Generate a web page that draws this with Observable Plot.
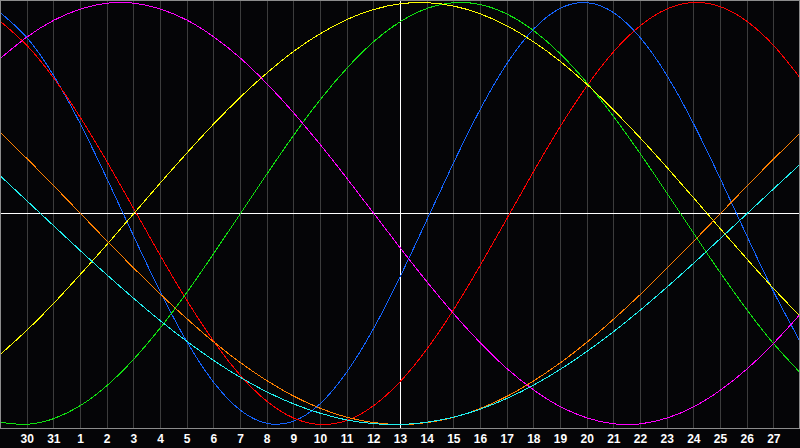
<!DOCTYPE html>
<html>
<head>
<meta charset="utf-8">
<script src="https://cdn.jsdelivr.net/npm/d3@7"></script>
<script src="https://cdn.jsdelivr.net/npm/@observablehq/plot@0.6"></script>
<style>
  html, body { margin: 0; padding: 0; background: #050507; }
  #chart svg { display: block; }
</style>
</head>
<body>
<div id="chart"></div>
<script>
// x positions: day offsets from the left edge of the window (0 .. 30)
const days = [0,1,2,3,4,5,6,7,8,9,10,11,12,13,14,15,16,17,18,19,20,21,22,23,24,25,26,27,28,29,30];

// grid lines and their calendar-day labels
const gridDays   = [1,2,3,4,5,6,7,8,9,10,11,12,13,14,15,16,17,18,19,20,21,22,23,24,25,26,27,28,29];
const tickLabels = ["30","31","1","2","3","4","5","6","7","8","9","10","11","12","13","14","15","16","17","18","19","20","21","22","23","24","25","26","27"];
const todayDay = 15;

// series values (one value per day)
const physical     = [0.951,0.832,0.652,0.423,0.163,-0.109,-0.373,-0.610,-0.801,-0.933,-0.995,-0.984,-0.900,-0.749,-0.543,-0.296,-0.027,0.243,0.496,0.712,0.875,0.973,0.999,0.951,0.832,0.652,0.423,0.163,-0.109,-0.373,-0.610];
const emotional    = [0.910,0.795,0.641,0.454,0.244,0.022,-0.201,-0.414,-0.606,-0.768,-0.891,-0.970,-1.000,-0.980,-0.910,-0.795,-0.641,-0.454,-0.244,-0.022,0.201,0.414,0.606,0.768,0.891,0.970,1.000,0.980,0.910,0.795,0.641];
const intellectual = [-0.990,-0.999,-0.972,-0.910,-0.815,-0.690,-0.541,-0.372,-0.189,0.000,0.189,0.372,0.541,0.690,0.815,0.910,0.972,0.999,0.990,0.945,0.866,0.756,0.618,0.458,0.282,0.095,-0.095,-0.282,-0.458,-0.618,-0.756];
const intuitive    = [0.736,0.837,0.916,0.969,0.997,0.997,0.969,0.916,0.837,0.736,0.614,0.476,0.325,0.165,0.000,-0.165,-0.325,-0.476,-0.614,-0.736,-0.837,-0.916,-0.969,-0.997,-0.997,-0.969,-0.916,-0.837,-0.736,-0.614,-0.476];
const aesthetic    = [-0.667,-0.552,-0.425,-0.288,-0.146,0.000,0.146,0.288,0.425,0.552,0.667,0.769,0.853,0.920,0.967,0.994,0.999,0.983,0.946,0.889,0.813,0.720,0.611,0.489,0.357,0.217,0.073,-0.073,-0.217,-0.357,-0.489];
const awareness    = [0.383,0.259,0.131,0.000,-0.131,-0.259,-0.383,-0.500,-0.609,-0.707,-0.793,-0.866,-0.924,-0.966,-0.991,-1.000,-0.991,-0.966,-0.924,-0.866,-0.793,-0.707,-0.609,-0.500,-0.383,-0.259,-0.131,0.000,0.131,0.259,0.383];
const spiritual    = [0.177,0.059,-0.059,-0.177,-0.292,-0.403,-0.509,-0.607,-0.697,-0.777,-0.846,-0.903,-0.947,-0.979,-0.996,-1.000,-0.989,-0.965,-0.927,-0.876,-0.813,-0.738,-0.653,-0.559,-0.457,-0.348,-0.235,-0.118,0.000,0.118,0.235];

const seriesNames  = ["Physical","Emotional","Intellectual","Intuitive","Aesthetic","Awareness","Spiritual"];
const seriesValues = [physical, emotional, intellectual, intuitive, aesthetic, awareness, spiritual];
const seriesColors = ["#1464ff","#ff0000","#10e010","#ff00ff","#ffff00","#ff8000","#20f0f0"];

const table = [];
seriesNames.forEach((name, s) => {
  seriesValues[s].forEach((v, i) => table.push({series: name, d: days[i], v}));
});

const labelByDay = new Map(gridDays.map((d, i) => [d, tickLabels[i]]));

const chart = Plot.plot({
  width: 800,
  height: 448,
  marginTop: 2,
  marginBottom: 20,
  marginLeft: 0,
  marginRight: 0,
  style: {background: "#050507", overflow: "visible"},
  x: {domain: [0, 30], label: null},
  y: {domain: [-1.019, 1], axis: null},
  color: {domain: seriesNames, range: seriesColors},
  marks: [
    Plot.ruleX(gridDays, {stroke: "#3c3c3c", strokeWidth: 1, insetTop: -2, shapeRendering: "crispEdges"}),
    Plot.ruleY([0], {stroke: "#ffffff", strokeWidth: 1, shapeRendering: "crispEdges"}),
    Plot.ruleX([todayDay], {stroke: "#ffffff", strokeWidth: 1, insetTop: -2, shapeRendering: "crispEdges"}),
    Plot.line(table, {x: "d", y: "v", z: "series", stroke: "series", strokeWidth: 1, curve: "natural", shapeRendering: "crispEdges"}),
    Plot.frame({stroke: "#8c8c8c", strokeWidth: 1, insetTop: -2, insetLeft: 0, insetRight: 1, shapeRendering: "crispEdges"}),
    Plot.axisX(gridDays, {
      label: null,
      tickSize: 0,
      tickPadding: 6,
      tickFormat: d => labelByDay.get(d),
      fill: "#ffffff",
      fontSize: 12,
      fontWeight: "bold",
      fontFamily: "Liberation Sans, Arial, sans-serif"
    })
  ]
});

document.getElementById("chart").appendChild(chart);
</script>
</body>
</html>
